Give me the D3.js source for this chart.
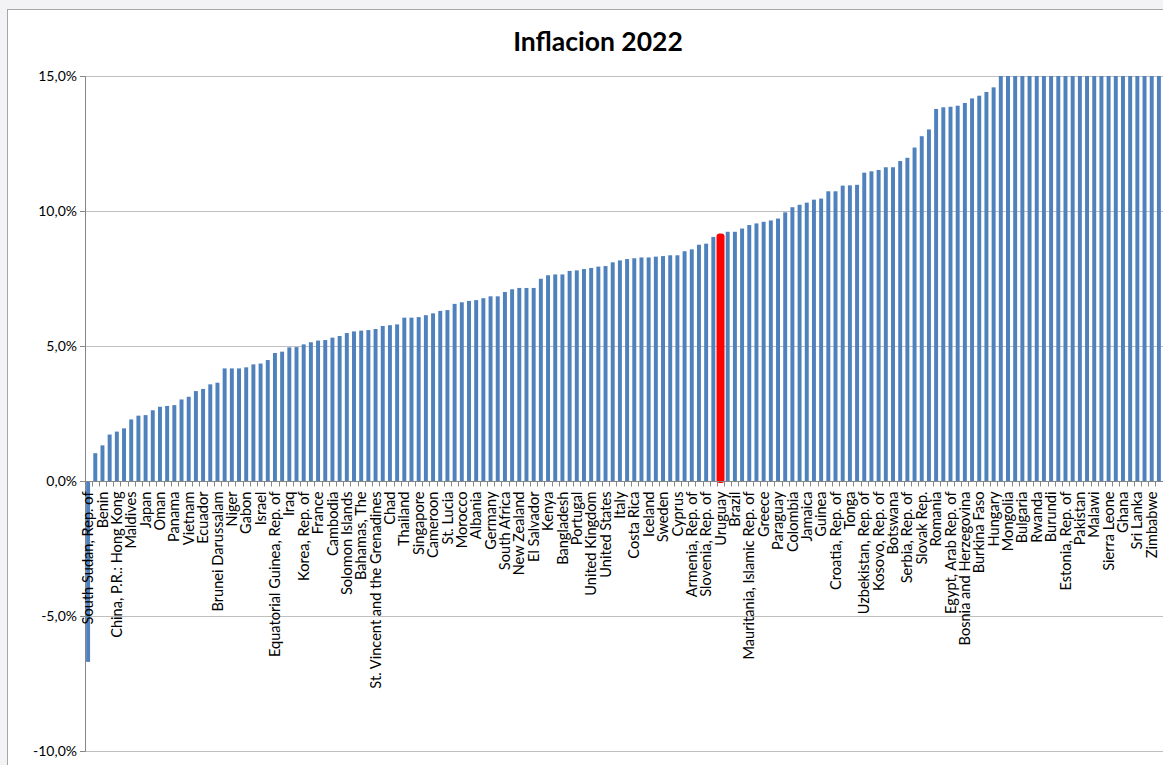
<!DOCTYPE html>
<html><head><meta charset="utf-8">
<script src="https://cdn.jsdelivr.net/npm/d3@7"></script>
<style>
html,body{margin:0;padding:0;background:#f3f3f5;}
svg{display:block;}
</style></head><body>
<svg id="chart" width="1163" height="765"></svg>
<script>
// Visible category labels (every second bar carries a label)
const labels = ["South Sudan, Rep. of","Benin","China, P.R.: Hong Kong","Maldives","Japan","Oman","Panama","Vietnam","Ecuador","Brunei Darussalam","Niger","Gabon","Israel","Equatorial Guinea, Rep. of","Iraq","Korea, Rep. of","France","Cambodia","Solomon Islands","Bahamas, The","St. Vincent and the Grenadines","Chad","Thailand","Singapore","Cameroon","St. Lucia","Morocco","Albania","Germany","South Africa","New Zealand","El Salvador","Kenya","Bangladesh","Portugal","United Kingdom","United States","Italy","Costa Rica","Iceland","Sweden","Cyprus","Armenia, Rep. of","Slovenia, Rep. of","Uruguay","Brazil","Mauritania, Islamic Rep. of","Greece","Paraguay","Colombia","Jamaica","Guinea","Croatia, Rep. of","Tonga","Uzbekistan, Rep. of","Kosovo, Rep. of","Botswana","Serbia, Rep. of","Slovak Rep.","Romania","Egypt, Arab Rep. of","Bosnia and Herzegovina","Burkina Faso","Hungary","Mongolia","Bulgaria","Rwanda","Burundi","Estonia, Rep. of","Pakistan","Malawi","Sierra Leone","Ghana","Sri Lanka","Zimbabwe"];

// Inflation 2022 (%), one value per bar, sorted; bars above 15% are shown capped at the axis maximum
const values = [-6.7,1.03,1.32,1.72,1.83,1.95,2.28,2.42,2.44,2.62,
2.75,2.78,2.81,3.02,3.12,3.33,3.41,3.58,3.64,4.17,
4.17,4.17,4.21,4.32,4.35,4.48,4.74,4.79,4.95,4.96,
5.06,5.14,5.20,5.22,5.31,5.37,5.48,5.54,5.57,5.59,
5.63,5.74,5.77,5.80,6.05,6.05,6.07,6.14,6.21,6.30,
6.33,6.56,6.62,6.67,6.70,6.77,6.84,6.84,7.00,7.10,
7.15,7.15,7.15,7.49,7.62,7.65,7.65,7.78,7.80,7.85,
7.89,7.94,7.96,8.10,8.17,8.22,8.25,8.28,8.28,8.31,
8.33,8.36,8.36,8.51,8.58,8.75,8.79,9.04,9.17,9.23,
9.23,9.35,9.48,9.54,9.60,9.65,9.72,9.95,10.14,10.23,
10.31,10.42,10.46,10.73,10.73,10.94,10.95,10.97,11.42,11.47,
11.52,11.62,11.62,11.85,11.97,12.35,12.77,13.02,13.78,13.84,
13.86,13.90,14.00,14.17,14.27,14.41,14.58,15,15,15,
15,15,15,15,15,15,15,15,15,15,
15,15,15,15,15,15,15,15,15,15];

const yTicks = [-10,-5,0,5,10,15];
const highlight = "Uruguay";
const title = "Inflacion 2022";

(function(){
const svg = d3.select("#chart");
svg.append("rect").attr("x",7.5).attr("y",9.5).attr("width",1170).attr("height",770)
  .attr("fill","#ffffff").attr("stroke","#a6a6a6").attr("stroke-width",1);

const pl = 84.5, pr = 1162.5, pt = 76, pb = 751;
const idx = d3.range(values.length);
const x = d3.scaleBand().domain(idx).range([pl,pr]).paddingInner(0.45).paddingOuter(0.225);
const y = d3.scaleLinear().domain([-10,15]).range([pb,pt]);
const step = x.step();

const labelOf = i => (i % 2 === 0 && labels[i/2] !== undefined) ? labels[i/2] : "";
const hiIndex = labels.indexOf(highlight) * 2;

svg.append("g").selectAll("line").data(yTicks.filter(d=>d!==0)).join("line")
  .attr("x1",pl).attr("x2",1163).attr("y1",d=>Math.round(y(d))+0.5).attr("y2",d=>Math.round(y(d))+0.5)
  .attr("stroke","#bfbfbf").attr("stroke-width",1);

const clip = v => Math.max(-10, Math.min(15, v));
svg.append("g").selectAll("rect").data(idx.filter(i=>i!==hiIndex)).join("rect")
  .attr("x",i=>x(i)).attr("width",x.bandwidth())
  .attr("y",i=>y(Math.max(0,clip(values[i])))).attr("height",i=>Math.abs(y(clip(values[i]))-y(0)))
  .attr("fill","#4f81bd");

svg.append("g").selectAll("rect").data([hiIndex]).join("rect")
  .attr("x",i=>x(i)+x.bandwidth()/2-4).attr("width",8)
  .attr("y",i=>y(values[i])).attr("height",i=>y(0)-y(values[i])+2)
  .attr("rx",3)
  .attr("fill","#ff0000");

const yAxis = d3.axisLeft(y).tickValues(yTicks).tickSize(5).tickPadding(3)
  .tickFormat(d=>d.toFixed(1).replace(".",",")+"%");
const gy = svg.append("g").attr("transform",`translate(${pl+0.5},0)`).call(yAxis);
gy.select(".domain").attr("stroke","#868686");
gy.selectAll(".tick line").attr("stroke","#868686");
gy.selectAll(".tick text").attr("font-family","Lato, 'Open Sans', sans-serif").attr("font-size",14).attr("fill","#000");

const y0 = Math.round(y(0))+0.5;
svg.append("line").attr("x1",pl).attr("x2",1163).attr("y1",y0).attr("y2",y0).attr("stroke","#868686");
svg.append("g").selectAll("line").data(d3.range(values.length+1)).join("line")
  .attr("x1",i=>Math.round(pl+i*step)+0.5).attr("x2",i=>Math.round(pl+i*step)+0.5)
  .attr("y1",y0).attr("y2",y0+5).attr("stroke","#868686");

const xAxis = d3.axisBottom(x).tickSize(0).tickFormat(labelOf);
const gx = svg.append("g").attr("transform",`translate(0,${y0})`).call(xAxis);
gx.select(".domain").remove();
gx.selectAll(".tick text")
  .attr("font-family","Lato, 'Open Sans', sans-serif").attr("font-size",14.6).attr("fill","#000")
  .attr("transform","rotate(-90)").attr("text-anchor","end")
  .attr("x",-10).attr("y",0).attr("dy","0.35em");

svg.append("text").attr("x",598).attr("y",51).attr("text-anchor","middle")
  .attr("font-family","Lato, 'Open Sans', sans-serif").attr("font-weight","bold").attr("font-size",26.5)
  .attr("fill","#000").text(title);
})();
</script>
</body></html>
